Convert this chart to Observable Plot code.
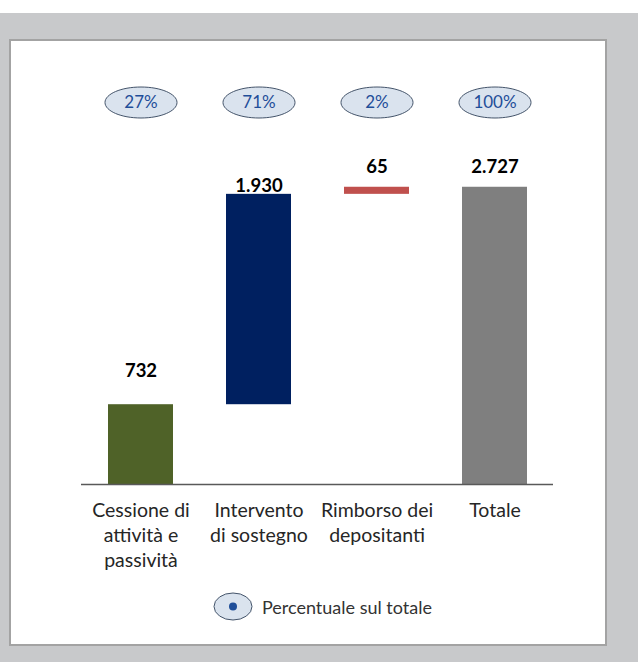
<!DOCTYPE html>
<html><head><meta charset="utf-8">
<script src="https://cdn.jsdelivr.net/npm/d3@7"></script>
<script src="https://cdn.jsdelivr.net/npm/@observablehq/plot@0.6"></script>
<style>
body{margin:0;background:#fff;width:638px;height:662px;overflow:hidden;font-family:Lato, sans-serif;position:relative;}
#bg{position:absolute;left:0;top:13px;width:638px;height:649px;background:#c8c9cb;}
#panel{position:absolute;left:9px;top:39px;width:594px;height:603px;background:#fff;border:2px solid #a3a3a3;}
#chart{position:absolute;left:0;top:0;}
#legend{position:absolute;left:213px;top:592px;display:flex;align-items:center;gap:9px;font-size:18px;color:#333;}
</style></head><body>
<div id="bg"></div><div id="panel"></div><div id="chart"></div>
<div id="legend"><svg width="40" height="29"><ellipse cx="20" cy="14.5" rx="19" ry="13.5" fill="#dae3ee" stroke="#44546a" stroke-width="1"/><circle cx="20" cy="14.5" r="4" fill="#1f4e99"/></svg><span>Percentuale sul totale</span></div>
<script>
const categories = ["Cessione di attività e passività", "Intervento di sostegno", "Rimborso dei depositanti", "Totale"];
const tickLabels = ["Cessione di\nattività e\npassività", "Intervento\ndi sostegno", "Rimborso dei\ndepositanti", "Totale"];
const values = [732, 1930, 65, 2727];
const percents = ["27%", "71%", "2%", "100%"];
const barColors = ["#4f6228", "#002060", "#c0504d", "#7f7f7f"];
const labelDy = [-34, -8, -20, -20];

const fmt = d3.formatLocale({decimal: ",", thousands: ".", grouping: [3], currency: ["€", ""]}).format(",");

let acc = 0;
const rows = categories.map((c, i) => {
  const isTotal = i === categories.length - 1;
  const y1 = isTotal ? 0 : acc;
  const y2 = isTotal ? values[i] : acc + values[i];
  if (!isTotal) acc += values[i];
  return {cat: c, y1, y2, value: values[i], pct: percents[i], color: barColors[i]};
});
const tickMap = new Map(categories.map((c, i) => [c, tickLabels[i]]));

const ellipse = (rx, ry) => ({
  draw(ctx) {
    const k = 0.5523;
    ctx.moveTo(rx, 0);
    ctx.bezierCurveTo(rx, ry * k, rx * k, ry, 0, ry);
    ctx.bezierCurveTo(-rx * k, ry, -rx, ry * k, -rx, 0);
    ctx.bezierCurveTo(-rx, -ry * k, -rx * k, -ry, 0, -ry);
    ctx.bezierCurveTo(rx * k, -ry, rx, -ry * k, rx, 0);
    ctx.closePath();
  }
});

const base = 484, pxPerUnit = 0.109;
const ymax = d3.max(values);

const chart = Plot.plot({
  width: 638,
  height: 662,
  marginLeft: 81,
  marginRight: 85,
  marginTop: 40,
  marginBottom: 178,
  style: {background: "transparent", fontFamily: "Lato, sans-serif"},
  x: {domain: categories, paddingInner: 0.45, paddingOuter: 0.225, axis: null},
  y: {domain: [0, ymax], range: [base, base - ymax * pxPerUnit], axis: null},
  color: {type: "identity"},
  marks: [
    Plot.barY(rows, {x: "cat", y1: "y1", y2: "y2", fill: "color"}),
    Plot.ruleY([0], {stroke: "#595959", strokeWidth: 1.5}),
    ...rows.map((r, i) => Plot.text([r], {x: "cat", y: "y2", text: d => fmt(d.value), dy: labelDy[i], fontSize: 18.5, fontWeight: "bold", fill: "#000"})),
    Plot.dot(rows, {x: "cat", frameAnchor: "top", dy: 62, r: 10, symbol: ellipse(36, 15.5), fill: "#dae3ee", stroke: "#44546a", strokeWidth: 1}),
    Plot.text(rows, {x: "cat", frameAnchor: "top", lineAnchor: "middle", dy: 62, text: "pct", fontSize: 17, fill: "#1f4e99"}),
    Plot.axisX({label: null, tickSize: 0, tickPadding: 15, fontSize: 19.5, lineHeight: 1.28, tickFormat: d => tickMap.get(d), fill: "#262626"})
  ]
});
document.getElementById("chart").appendChild(chart);
</script>
</body></html>
